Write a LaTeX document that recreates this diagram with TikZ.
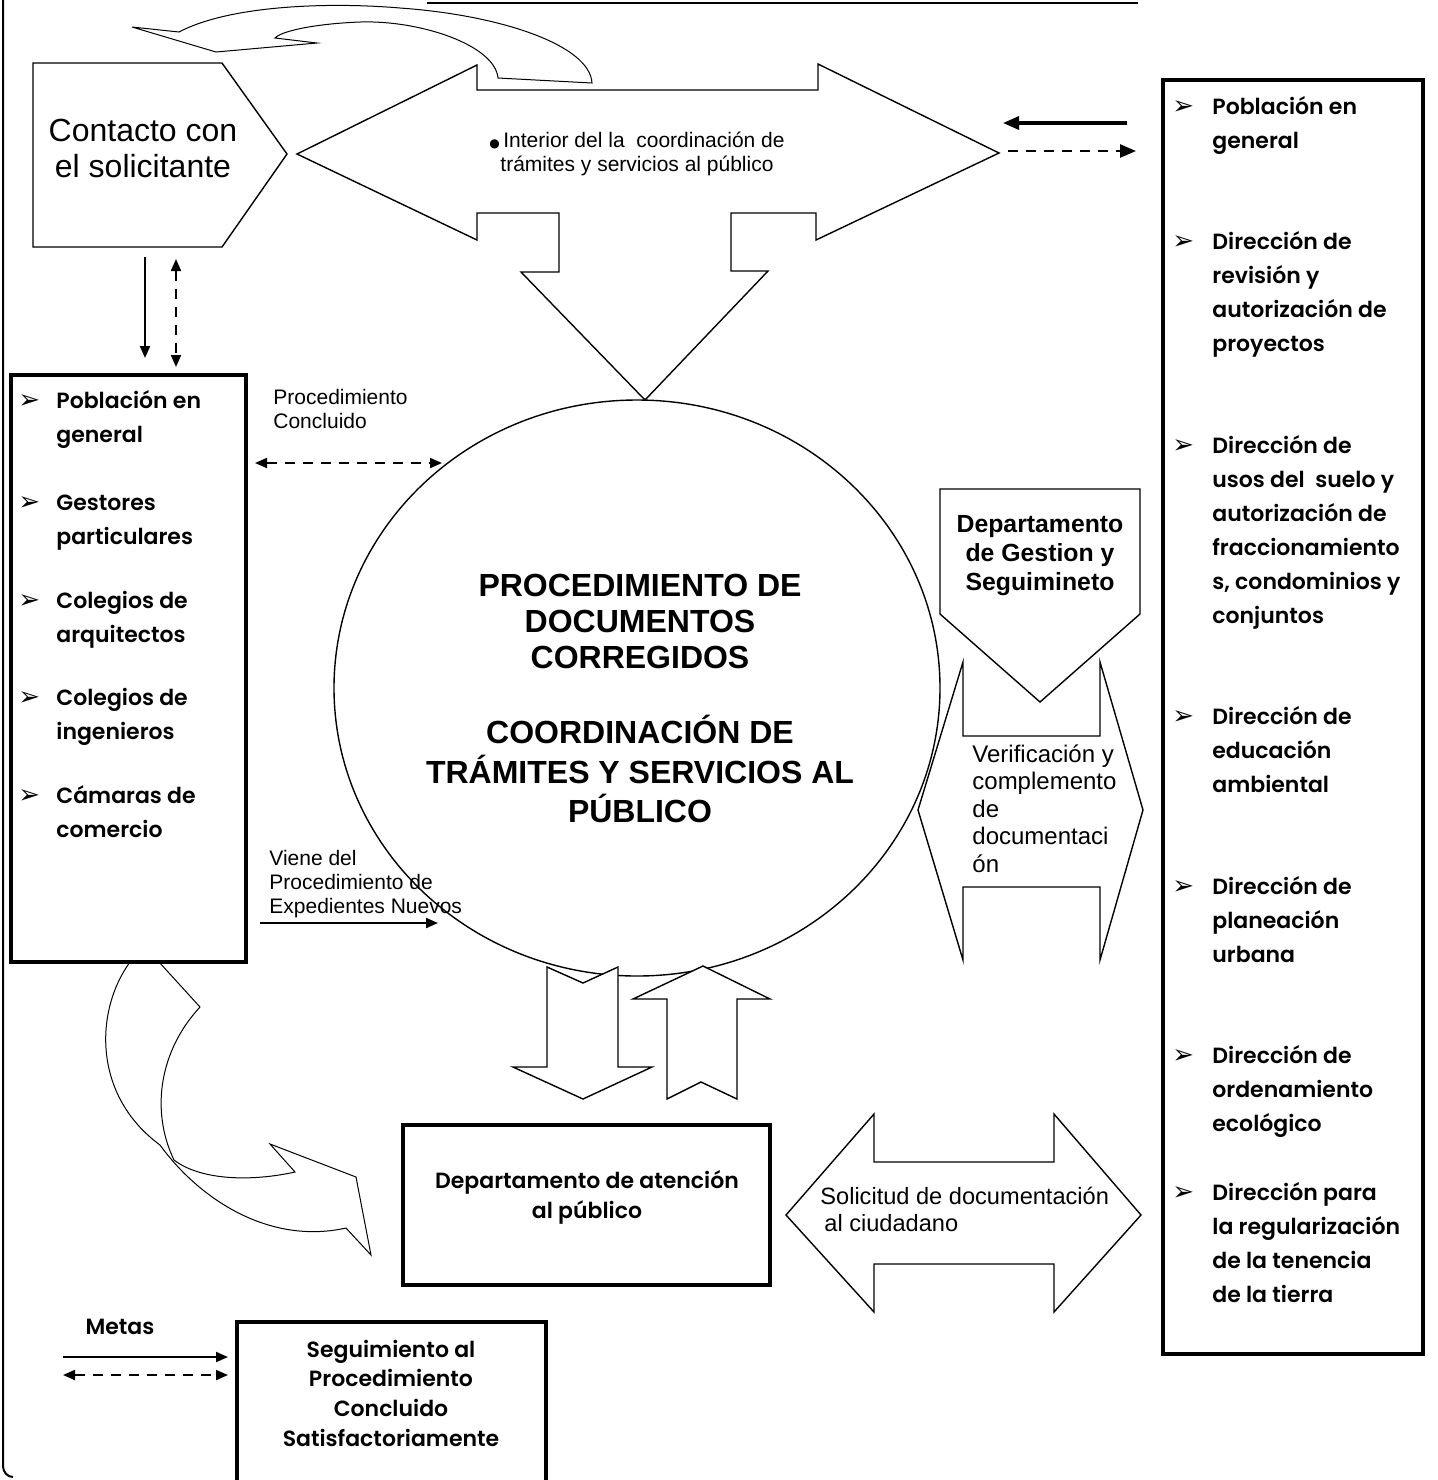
\documentclass[tikz,border=0pt]{standalone}
\usepackage{fontspec}
\setmainfont{Liberation Sans}
\IfFontExistsTF{Poppins SemiBold}
  {\newfontfamily\gothic{Poppins}[BoldFont={Poppins SemiBold}]}
  {\newfontfamily\gothic{Poppins}}
\newfontfamily\dejavu{DejaVu Sans}
\usetikzlibrary{arrows.meta}
\newcommand\Lines[2]{\begin{tabular}[t]{@{}#1@{}}#2\end{tabular}}
\begin{document}
\begin{tikzpicture}[x=0.5pt,y=-0.5pt,
  outline/.style={draw=black, line width=0.7pt, fill=white, line join=miter},
  thinline/.style={draw=black, line width=0.5pt},
  frame/.style={draw=black, line width=1.7pt},
  gt/.style={font=\gothic\bfseries\fontsize{11}{17}\selectfont, inner sep=0pt},
  gtc/.style={font=\gothic\bfseries\fontsize{11}{15}\selectfont, inner sep=0pt},
  bul/.style={font=\dejavu\fontsize{13}{13}\selectfont, inner sep=0pt},
  small/.style={font=\fontsize{10.5}{12}\selectfont, inner sep=0pt},
  conn/.style={line width=1pt, -{Triangle[length=6pt,width=5pt]}},
  dconn/.style={line width=1pt, dash pattern=on 5pt off 4pt, {Triangle[length=6pt,width=5pt]}-{Triangle[length=6pt,width=5pt]}},
  bigconn/.style={line width=1.6pt, -{Triangle[length=8pt,width=6.5pt]}},
  bigdconn/.style={line width=1.3pt, dash pattern=on 5pt off 4pt, -{Triangle[length=8pt,width=6.5pt]}}
]
\useasboundingbox (0,0) rectangle (1438,1480);

% page frame remnants
\draw[line width=1pt] (3,0) -- (3,1466) to[out=-90,in=180] (13,1477);
\draw[line width=1.2pt] (427,3) -- (1138,3);

% top curved block arrow
\draw[thinline] (132,27) -- (179,32) .. controls (230,5) and (330,2) .. (400,8)
  .. controls (500,15) and (590,45) .. (592,83) -- (498,78)
  .. controls (495,45) and (420,20) .. (360,22)
  .. controls (310,24) and (280,32) .. (275,38) -- (317,43) -- (216,52) -- cycle;

% Contacto con el solicitante
\draw[outline] (33,63) -- (222,63) -- (287,154) -- (222,247) -- (33,247) -- cycle;
\node[font=\fontsize{16}{18}\selectfont, inner sep=0pt, anchor=base] (contacto) at (143,141)
  {\Lines{c}{Contacto con\\el solicitante}};

% big left-right-down arrow
\draw[outline] (297,154) -- (477,65) -- (477,90) -- (818,90) -- (818,64) -- (999,153)
  -- (816,240) -- (816,213) -- (731,213) -- (731,271) -- (768,271) -- (645,400)
  -- (521,272) -- (559,272) -- (559,213) -- (477,213) -- (477,240) -- cycle;
\node[small, anchor=base] (interior) at (637,147)
  {\Lines{c}{{\dejavu\fontsize{6}{6}\selectfont ●}\,Interior del la\ \ coordinación de\\trámites y servicios al público}};

% right small arrows
\coordinate (ra1) at (1127,123);
\coordinate (ra2) at (1003,123);
\coordinate (rb1) at (1008,151);
\coordinate (rb2) at (1136,151);
\draw[bigconn] (ra1) -- (ra2);
\draw[bigdconn] (rb1) -- (rb2);

% circle
\draw[outline] (637,688) ellipse [x radius=151.5pt, y radius=144pt];
\node[font=\bfseries\fontsize{16}{18.1}\selectfont, inner sep=0pt, anchor=base] (circtext) at (640,596)
  {\Lines{c}{PROCEDIMIENTO DE\\DOCUMENTOS\\CORREGIDOS\\ \\COORDINACIÓN DE\\TRÁMITES Y SERVICIOS AL\\PÚBLICO}};

% left box
\draw[frame] (11,375) rectangle (246,962);
\foreach \yy/\tx [count=\i] in {408/{Población en\\general}, 510/{Gestores\\particulares}, 608/{Colegios de\\arquitectos}, 705/{Colegios de\\ingenieros}, 803/{Cámaras de\\comercio}}{
  \node[bul, anchor=base west] (lb\i) at (18,\yy) {➢};
  \node[gt, anchor=base west] (lt\i) at (56,\yy) {\Lines{l}{\tx}};
}

% arrows between Contacto and left box
\coordinate (ca1) at (145,257);
\coordinate (ca2) at (145,358);
\coordinate (cb1) at (176,259);
\coordinate (cb2) at (176,367);
\draw[conn] (ca1) -- (ca2);
\draw[dconn] (cb1) -- (cb2);

% Procedimiento concluido
\node[small, anchor=base west] (pconc) at (273,404) {\Lines{l}{Procedimiento\\Concluido}};
\coordinate (pc1) at (255,463);
\coordinate (pc2) at (442,463);
\draw[dconn] (pc1) -- (pc2);

% Viene del procedimiento
\node[small, anchor=base west] (viene) at (269,865) {\Lines{l}{Viene del\\Procedimiento de\\Expedientes Nuevos}};
\coordinate (vn1) at (260,923);
\coordinate (vn2) at (438,923);
\draw[conn] (vn1) -- (vn2);

% Verificacion double arrow
\draw[outline] (918,810) -- (963,662) -- (963,736) -- (1100,736) -- (1100,662) -- (1143,810)
  -- (1100,960) -- (1100,887) -- (963,887) -- (963,960) -- cycle;
\node[font=\fontsize{12}{13.75}\selectfont, inner sep=0pt, anchor=base west] (verif) at (972,762)
  {\Lines{l}{Verificación y\\complemento\\de\\documentaci\\ón}};

% Departamento de Gestion pentagon
\draw[outline] (940,489) -- (1140,489) -- (1140,614) -- (1040,702) -- (940,614) -- cycle;
\node[font=\bfseries\fontsize{12.4}{14.5}\selectfont, inner sep=0pt, anchor=base] (gestion) at (1040,532)
  {\Lines{c}{Departamento\\de Gestion y\\Seguimineto}};

% right box
\draw[frame] (1163,80) rectangle (1423,1354);
\foreach \yy/\tx [count=\i] in {114/{Población en\\general},
  249/{Dirección de\\revisión y\\autorización de\\proyectos},
  453/{Dirección de\\usos del\ \ suelo y\\autorización de\\fraccionamiento\\s, condominios y\\conjuntos},
  724/{Dirección de\\educación\\ambiental},
  894/{Dirección de\\planeación\\urbana},
  1063/{Dirección de\\ordenamiento\\ecológico},
  1200/{Dirección para\\la regularización\\de la tenencia\\de la tierra}}{
  \node[bul, anchor=base west] (rb\i) at (1172,\yy) {➢};
  \node[gt, anchor=base west] (rt\i) at (1212,\yy) {\Lines{l}{\tx}};
}

% down / up block arrows
\draw[outline] (547,967) -- (583,983) -- (618,967) -- (618,1067) -- (652,1067) -- (583,1099)
  -- (513,1067) -- (547,1067) -- cycle;
\draw[outline] (703,966) -- (770,999) -- (737,999) -- (737,1099) -- (701,1082) -- (667,1099)
  -- (667,999) -- (633,999) -- cycle;

% bottom-left curved block arrow
\draw[thinline] (130,962) .. controls (95,1010) and (92,1095) .. (160,1145)
  .. controls (200,1200) and (270,1245) .. (346,1228) -- (371,1255) -- (356,1177) -- (270,1144) -- (295,1172)
  .. controls (250,1182) and (200,1180) .. (174,1160)
  .. controls (150,1110) and (160,1050) .. (200,1007) -- (159,962);

% Departamento de atencion
\draw[frame] (403,1125) rectangle (770,1285);
\node[gtc, anchor=base] (atencion) at (587,1188) {\Lines{c}{Departamento de atención\\al público}};

% Solicitud double arrow
\draw[outline] (786,1215) -- (874,1114) -- (874,1162) -- (1054,1162) -- (1054,1114) -- (1141,1215)
  -- (1054,1312) -- (1054,1264) -- (874,1264) -- (874,1312) -- cycle;
\node[font=\fontsize{11.8}{13.5}\selectfont, inner sep=0pt, anchor=base west] (solic) at (820,1204)
  {\Lines{l}{Solicitud de documentación\\\hspace{2pt}al ciudadano}};

% Seguimiento box
\draw[frame] (237,1482) -- (237,1322) -- (546,1322) -- (546,1482);
\node[font=\gothic\bfseries\fontsize{11}{14.85}\selectfont, inner sep=0pt, anchor=base] (seguim) at (391,1357)
  {\Lines{c}{Seguimiento al\\Procedimiento\\Concluido\\Satisfactoriamente}};

% Metas
\node[gt, anchor=base] (metas) at (120,1334) {Metas};
\coordinate (mt1) at (63,1357);
\coordinate (mt2) at (228,1357);
\coordinate (md1) at (63,1375);
\coordinate (md2) at (228,1375);
\draw[conn] (mt1) -- (mt2);
\draw[dconn] (md1) -- (md2);
\end{tikzpicture}
\end{document}
